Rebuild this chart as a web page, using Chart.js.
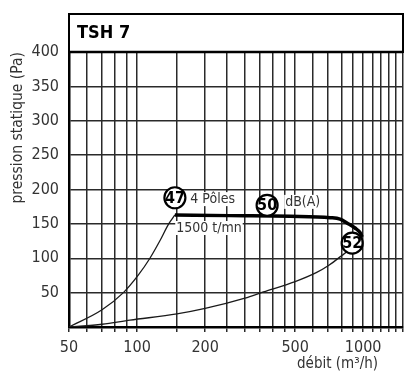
<!DOCTYPE html>
<html><head><meta charset="utf-8">
<script src="https://cdn.jsdelivr.net/npm/chart.js@4/dist/chart.umd.min.js"></script>
<style>html,body{margin:0;padding:0;background:#fff;}#wrap{width:405px;height:374px;position:relative;}</style>
</head><body><div id="wrap"><canvas id="c" width="405" height="374"></canvas></div>
<script>
const NARROW = '"Liberation Sans Narrow", "Arial Narrow", "DejaVu Sans Condensed", sans-serif';
const chartTitle = 'TSH 7';
const yAxisTitle = 'pression statique (Pa)';
const xAxisTitle = 'débit (m³/h)';
const xGridValues = [50,60,70,80,90,100,150,200,250,300,350,400,450,500,600,700,800,900,1000,1100,1200,1300,1400,1500];
const xTickLabels = [50,100,200,500,1000];
const yTickLabels = [50,100,150,200,250,300,350,400];
const fanFlow = [147,257,475,714,790,851,920,970,989];
const fanPressure = [163,162,161,159,157,151,144,137,131];
const sys1Flow = [50,70,87,101,114,126,138,147];
const sys1Pressure = [0,25,50,75,100,125,150,163];
const sys2Flow = [50,70,93,150,200,300,362,500,620,700,790,870,894];
const sys2Pressure = [0,4,10,19,27,42,51,66,79,89,102,114,122];
const soundFlow = [147,376,894];
const soundPressure = [188,177,122];
const soundLevels = ['47','50','52'];
const noteTexts = ['4 Pôles','dB(A)','1500 t/mn'];
const noteFlow = [172,452,149];
const notePressure = [186,182,144];

const pts = (xs, ys) => xs.map((v,i)=>({x:v,y:ys[i]}));
const INK = '#1a1a1a';

const decor = {
  id:'decor',
  beforeDatasetsDraw(chart){
    const {ctx, scales:{x,y}} = chart;
    ctx.save();
    ctx.font = '14px '+NARROW;
    ctx.textBaseline = 'middle'; ctx.textAlign = 'left';
    noteTexts.forEach((t,i)=>{
      const px = x.getPixelForValue(noteFlow[i]), py = y.getPixelForValue(notePressure[i]);
      const w = ctx.measureText(t).width;
      ctx.fillStyle = '#fff'; ctx.fillRect(px-1, py-7, w+2, 14);
      ctx.fillStyle = '#333'; ctx.fillText(t, px, py+0.5);
    });
    ctx.restore();
  },
  afterDatasetsDraw(chart){
    const {ctx} = chart;
    const meta = chart.getDatasetMeta(3);
    ctx.save();
    ctx.font = 'bold 16px '+NARROW;
    ctx.textBaseline = 'middle'; ctx.textAlign = 'center';
    ctx.fillStyle = '#000';
    meta.data.forEach((el,i)=>{ ctx.fillText(soundLevels[i], el.x, el.y+1); });
    ctx.restore();
  },
  afterDraw(chart){
    const {ctx, chartArea:a} = chart;
    ctx.save();
    ctx.strokeStyle = '#000';
    ctx.lineWidth = 2;
    ctx.strokeRect(a.left, 14, a.right-a.left, a.top-14);
    ctx.lineWidth = 2.5;
    ctx.beginPath(); ctx.moveTo(a.left, a.top); ctx.lineTo(a.right, a.top); ctx.stroke();
    ctx.fillStyle = '#000';
    ctx.font = 'bold 18px '+NARROW;
    ctx.textBaseline = 'middle'; ctx.textAlign = 'left';
    ctx.fillText(chartTitle, a.left+8, 33);
    ctx.fillStyle = '#333';
    ctx.font = '15px '+NARROW;
    ctx.textAlign = 'right';
    ctx.fillText(xAxisTitle, 378, 364);
    ctx.restore();
  }
};

new Chart(document.getElementById('c'), {
  type:'line',
  data:{datasets:[
    {data:pts(fanFlow,fanPressure), borderColor:'#000', borderWidth:3.5, pointRadius:0, cubicInterpolationMode:'monotone', order:1},
    {data:pts(sys1Flow,sys1Pressure), borderColor:INK, borderWidth:1.3, pointRadius:0, cubicInterpolationMode:'monotone', order:2},
    {data:pts(sys2Flow,sys2Pressure), borderColor:INK, borderWidth:1.3, pointRadius:0, cubicInterpolationMode:'monotone', order:2},
    {data:pts(soundFlow,soundPressure), showLine:false, pointRadius:10.5, pointHoverRadius:10.5, pointBorderWidth:2.2, pointBackgroundColor:'#fff', pointBorderColor:'#000', order:0}
  ]},
  options:{
    responsive:false, animation:false, devicePixelRatio:1,
    layout:{autoPadding:false, padding:{top:52,right:2,left:0,bottom:0}},
    plugins:{legend:{display:false}, tooltip:{enabled:false}},
    events:[],
    scales:{
      x:{type:'logarithmic', min:50, max:1500,
        afterBuildTicks(s){ s.ticks = xGridValues.map(v=>({value:v})); },
        afterFit(s){ s.height = 47; s.paddingRight = 0; },
        ticks:{autoSkip:false, maxRotation:0, padding:6, color:'#333', font:{family:NARROW, size:16},
          callback:(v)=> xTickLabels.includes(v) ? String(v) : ''},
        grid:{color:'#2a2a2a', lineWidth:1.5, tickLength:5, drawTicks:true},
        border:{display:true, color:'#000', width:2.5}
      },
      y:{min:0, max:400,
        afterFit(s){ s.width = 69; },
        ticks:{stepSize:25, padding:10, color:'#333', font:{family:NARROW, size:16},
          callback:(v)=> yTickLabels.includes(v) ? String(v) : ''},
        grid:{color:'#2a2a2a', lineWidth:1.5, drawTicks:false},
        border:{display:true, color:'#000', width:2.5},
        title:{display:true, text:yAxisTitle, align:'end', color:'#333', font:{family:NARROW, size:15.5}, padding:{top:9,bottom:0}}
      }
    }
  },
  plugins:[decor]
});
</script></body></html>
